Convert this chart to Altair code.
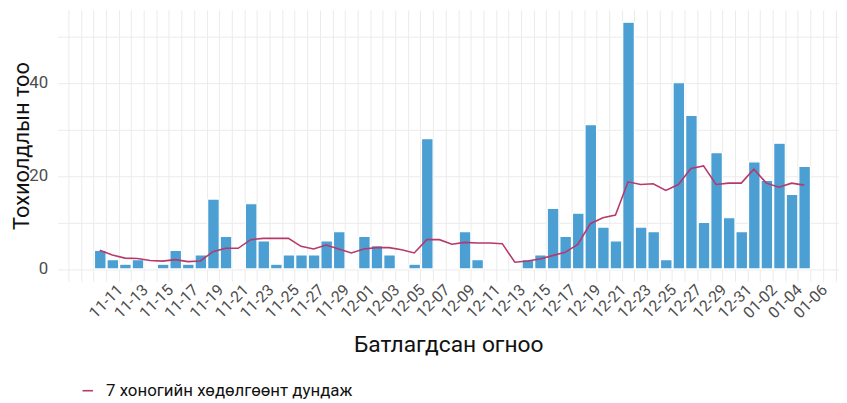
import altair as alt
import pandas as pd

# ---- data ----
dates = [d.strftime("%Y-%m-%d") for d in pd.date_range("2020-11-11", "2021-01-06")]
cases = [4, 2, 1, 2, 0, 1, 4, 1, 3, 15,
         7, 0, 14, 6, 1, 3, 3, 3, 6, 8,
         0, 7, 5, 3, 0, 1, 28, 0, 0, 8,
         2, 0, 0, 0, 2, 3, 13, 7, 12, 31,
         9, 6, 53, 9, 8, 2, 40, 33, 10, 25,
         11, 8, 23, 19, 27, 16, 22]
ma7 = [4.0, 3.0, 2.33, 2.25, 1.8, 1.67, 2.0, 1.57, 1.71, 3.71,
       4.43, 4.43, 6.29, 6.57, 6.57, 6.57, 4.86, 4.29, 5.14, 4.29,
       3.43, 4.29, 4.57, 4.57, 4.14, 3.43, 6.29, 6.29, 5.29, 5.71,
       5.57, 5.57, 5.43, 1.43, 1.71, 2.14, 2.86, 3.57, 5.29, 9.71,
       11.0, 11.57, 18.71, 18.14, 18.29, 16.86, 18.14, 21.57, 22.14, 18.14,
       18.43, 18.43, 21.43, 18.43, 17.57, 18.43, 18.0]
series_name = "7 хоногийн хөдөлгөөнт дундаж"
x_title = "Батлагдсан огноо"
y_title = "Тохиолдлын тоо"
y_grid_values = [0, 10, 20, 30, 40, 50]
grid_days = [int(d.timestamp() * 1000) for d in pd.date_range("2020-11-09", "2021-01-09", tz="UTC")]
first_label = int(pd.Timestamp("2020-11-11", tz="UTC").timestamp() * 1000)
last_label = int(pd.Timestamp("2021-01-06", tz="UTC").timestamp() * 1000)

df = pd.DataFrame({"date": dates, "cases": cases, "ma7": ma7, "series": series_name})

FONT = "Roboto"
BAR = "#4b9fd2"
LINE = "#b7396b"

x_scale = alt.Scale(
    type="utc",
    domain=[alt.DateTime(year=2020, month=11, date=8, hours=3, minutes=24, utc=True),
            alt.DateTime(year=2021, month=1, date=9, hours=6, minutes=30, utc=True)],
)
x_axis = alt.Axis(
    title=x_title,
    values=grid_days,
    labelExpr=(f"datum.value >= {first_label} && datum.value <= {last_label} && "
               f"round((datum.value - {first_label}) / 86400000) % 2 == 0 ? "
               "utcFormat(datum.value, '%m-%d') : ''"),
    labelAngle=-45,
    labelAlign="right",
    labelBaseline="top",
    labelOffset=21,
    labelPadding=0,
    labelFontSize=16,
    labelColor="#4d4d4d",
    labelOverlap=False,
    labelFlush=False,
    labelBound=False,
    titleFontSize=23,
    titleFontWeight="normal",
    titleColor="#111111",
    titleY=71,
    titleBaseline="alphabetic",
    grid=True,
    gridColor="#ebebeb",
    gridWidth=1,
    ticks=False,
    tickSize=0,
    domain=False,
)
y_scale = alt.Scale(domain=[-2.65, 55.65], nice=False, zero=False)
y_axis = alt.Axis(
    title=y_title,
    values=y_grid_values,
    labelExpr="datum.value % 20 == 0 ? datum.label : ''",
    labelFontSize=17,
    labelColor="#4d4d4d",
    labelPadding=10,
    titleFontSize=22,
    titleFontWeight="normal",
    titleColor="#111111",
    titleX=-29,
    titleY=137,
    titleAngle=270,
    titleAlign="center",
    titleBaseline="alphabetic",
    grid=True,
    gridColor="#ebebeb",
    gridWidth=1,
    ticks=False,
    tickSize=0,
    domain=False,
)

base = alt.Chart(df)

bars = base.transform_filter("datum.cases > 0").mark_bar(
    color=BAR, stroke="white", strokeWidth=1.2
).encode(
    x=alt.X("utcyearmonthdate(date):T", scale=x_scale, axis=x_axis),
    y=alt.Y("cases:Q", scale=y_scale, axis=y_axis),
)

line = base.mark_line(strokeWidth=1.6).encode(
    x=alt.X("utcyearmonthdate(date):T", bandPosition=0.5, scale=x_scale, axis=x_axis),
    y=alt.Y("ma7:Q", scale=y_scale, axis=y_axis),
    color=alt.Color(
        "series:N",
        scale=alt.Scale(domain=[series_name], range=[LINE]),
        legend=alt.Legend(
            title=None,
            orient="none",
            legendX=22,
            legendY=376,
            symbolType="stroke",
            symbolSize=110,
            symbolStrokeWidth=1.6,
            labelFontSize=17,
            labelColor="#111111",
            labelOffset=10,
            labelLimit=500,
            padding=0,
        ),
    ),
)

chart = alt.layer(bars, line).properties(
    width=789,
    height=274,
    autosize=alt.AutoSizeParams(type="none"),
    padding={"left": 50, "top": 0, "right": 0, "bottom": 121},
).configure(font=FONT).configure_axisX(labelOverlap=False).configure_view(stroke=None)

chart.save("out.html", embed_options={"renderer": "svg", "actions": False})
